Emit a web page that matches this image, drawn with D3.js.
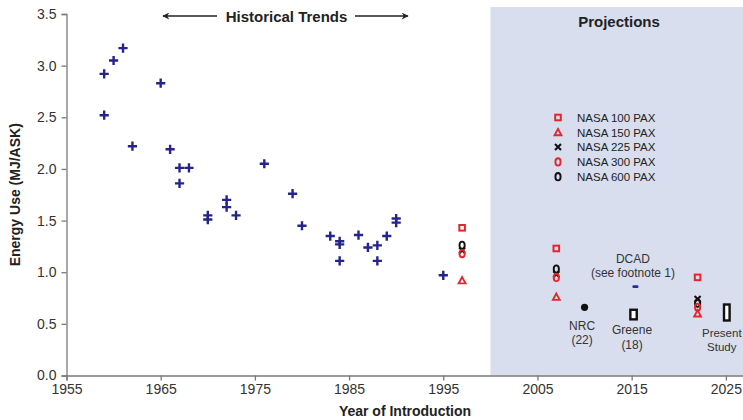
<html>
<head>
<meta http-equiv="Content-Type" content="text/html; charset=utf-8" />
<script src="https://cdn.jsdelivr.net/npm/d3@7/dist/d3.min.js" charset="utf-8"></script>
<style type="text/css">
body { margin: 0; background: #ffffff; }
svg { display: block; font-family: "Liberation Sans", Arial, sans-serif; }
</style>
</head>
<body>
<svg id="chart" width="743" height="420"></svg>
<script type="text/javascript">
// historical aircraft
var histYears  = [1959, 1959, 1960, 1961, 1962, 1965, 1966, 1967, 1968, 1967, 1970, 1970, 1972, 1972, 1973,
                  1976, 1979, 1980, 1983, 1984, 1984, 1984, 1986, 1987, 1988, 1988, 1989, 1990, 1990, 1995];
var histValues = [2.92, 2.52, 3.05, 3.17, 2.22, 2.83, 2.19, 2.01, 2.01, 1.86, 1.55, 1.51, 1.70, 1.63, 1.55,
                  2.05, 1.76, 1.45, 1.35, 1.30, 1.27, 1.11, 1.36, 1.24, 1.26, 1.11, 1.35, 1.52, 1.48, 0.97];

// NASA projections
var nasaYears = [1997, 2007, 2022];
var nasaNames = ["NASA 100 PAX", "NASA 150 PAX", "NASA 225 PAX", "NASA 300 PAX", "NASA 600 PAX"];
var nasa100 = [1.43, 1.23, 0.95];
var nasa150 = [0.92, 0.76, 0.60];
var nasa225 = [1.21, 0.98, 0.74];
var nasa300 = [1.18, 0.95, 0.66];
var nasa600 = [1.26, 1.03, 0.70];

// other studies
var studyNames  = ["NRC", "DCAD", "Greene", "Present Study"];
var studyYears  = [2010, 2015.4, 2015.2, 2025.1];
var studyValues = [0.66, 0.86, 0.59, 0.61];

var xTicks = [1955, 1965, 1975, 1985, 1995, 2005, 2015, 2025];
var yTicks = [0, 0.5, 1, 1.5, 2, 2.5, 3, 3.5];

var v_SVG = d3.select("#chart");
var x = d3.scaleLinear().domain([1955, 2027]).range([66.5, 744.7]);
var y = d3.scaleLinear().domain([0, 3.5]).range([375.5, 14]);

var RED = "#e3262b", NAVY = "#24248a", INK = "#222";

/* projections background */
v_SVG.append("rect")
	.attr("x", x(2000)).attr("y", 7)
	.attr("width", 743 - x(2000)).attr("height", y(0) - 7)
	.attr("fill", "#d8deee");

/* axes */
var xAxis = v_SVG.append("g")
	.attr("transform", "translate(0," + y(0) + ")")
	.call(d3.axisBottom(x).tickValues(xTicks).tickFormat(d3.format("d")).tickSize(5).tickPadding(4));
var yAxis = v_SVG.append("g")
	.attr("transform", "translate(" + x(1955) + ",0)")
	.call(d3.axisLeft(y).tickValues(yTicks).tickFormat(d3.format(".1f")).tickSize(5).tickPadding(5));
[xAxis, yAxis].forEach(function(g)
{
	g.select(".domain").attr("stroke", "#7a7a7a").attr("stroke-width", 1.3);
	g.selectAll(".tick line").attr("stroke", "#7a7a7a").attr("stroke-width", 1.3);
	g.selectAll(".tick text").attr("fill", "#333").attr("font-size", 14)
		.attr("font-family", "Liberation Sans, Arial, sans-serif");
});

v_SVG.append("text")
	.attr("x", 405).attr("y", 416).attr("text-anchor", "middle")
	.attr("font-size", 14).attr("font-weight", "bold").attr("fill", INK)
	.text("Year of Introduction");
v_SVG.append("text")
	.attr("transform", "translate(20," + (y(1.75)) + ") rotate(-90)")
	.attr("text-anchor", "middle")
	.attr("font-size", 14).attr("font-weight", "bold").attr("fill", INK)
	.text("Energy Use (MJ/ASK)");

/* Historical Trends header with arrows */
var defs = v_SVG.append("defs");
defs.append("marker").attr("id", "arr").attr("viewBox", "0 0 10 10")
	.attr("refX", 9).attr("refY", 5).attr("markerWidth", 9).attr("markerHeight", 7)
	.attr("markerUnits", "userSpaceOnUse").attr("orient", "auto-start-reverse")
	.append("path").attr("d", "M0,0 L10,5 L0,10 L3,5 Z").attr("fill", INK);
v_SVG.append("line").attr("x1", 217).attr("y1", 16).attr("x2", 163).attr("y2", 16)
	.attr("stroke", INK).attr("stroke-width", 1.3).attr("marker-end", "url(#arr)");
v_SVG.append("line").attr("x1", 355).attr("y1", 16).attr("x2", 408).attr("y2", 16)
	.attr("stroke", INK).attr("stroke-width", 1.3).attr("marker-end", "url(#arr)");
v_SVG.append("text").attr("x", 286.5).attr("y", 21.5).attr("text-anchor", "middle")
	.attr("font-size", 15).attr("font-weight", "bold").attr("fill", INK)
	.text("Historical Trends");
v_SVG.append("text").attr("x", 619).attr("y", 27).attr("text-anchor", "middle")
	.attr("font-size", 15).attr("font-weight", "bold").attr("fill", INK)
	.text("Projections");

/* marker drawing */
function drawMarker(g, kind, cx, cy)
{
	if (kind == "plus")
	{
		g.append("path").attr("d", "M" + (cx - 4.6) + "," + cy + "H" + (cx + 4.6) + "M" + cx + "," + (cy - 4.6) + "V" + (cy + 4.6))
			.attr("stroke", NAVY).attr("stroke-width", 2.4).attr("fill", "none");
	}
	else if (kind == "square")
	{
		g.append("rect").attr("x", cx - 2.8).attr("y", cy - 2.8).attr("width", 5.6).attr("height", 5.6)
			.attr("stroke", RED).attr("stroke-width", 2).attr("fill", "none");
	}
	else if (kind == "triangle")
	{
		g.append("path").attr("d", "M" + cx + "," + (cy - 3.4) + "L" + (cx + 3.4) + "," + (cy + 2.9) + "L" + (cx - 3.4) + "," + (cy + 2.9) + "Z")
			.attr("stroke", RED).attr("stroke-width", 1.9).attr("fill", "none");
	}
	else if (kind == "cross")
	{
		g.append("path").attr("d", "M" + (cx - 3) + "," + (cy - 3) + "L" + (cx + 3) + "," + (cy + 3) + "M" + (cx + 3) + "," + (cy - 3) + "L" + (cx - 3) + "," + (cy + 3))
			.attr("stroke", "#111").attr("stroke-width", 2.1).attr("fill", "none");
	}
	else if (kind == "oRed" || kind == "oBlack")
	{
		g.append("ellipse").attr("cx", cx).attr("cy", cy).attr("rx", 2.6).attr("ry", 3.7)
			.attr("stroke", kind == "oRed" ? RED : "#111").attr("stroke-width", 1.9).attr("fill", "none");
	}
}

var pts = v_SVG.append("g");
histYears.forEach(function(d, i)
{
	drawMarker(pts, "plus", x(d), y(histValues[i]));
});

var nasaSeries = [nasa100, nasa150, nasa225, nasa300, nasa600];
var nasaKinds  = ["square", "triangle", "cross", "oRed", "oBlack"];
var nasaOrder  = [4, 2, 3, 0, 1]; // drawing order: 600, 225, 300, 100, 150
nasaOrder.forEach(function(s)
{
	nasaYears.forEach(function(yr, i)
	{
		drawMarker(pts, nasaKinds[s], x(yr), y(nasaSeries[s][i]));
	});
});

/* legend */
nasaNames.forEach(function(n, i)
{
	var ly = 117.5 + i * 14.8;
	drawMarker(v_SVG, nasaKinds[i], 558, ly);
	v_SVG.append("text").attr("x", 577).attr("y", ly + 4.2)
		.attr("font-size", 11.5).attr("fill", INK).text(n);
});

/* other studies */
var sx = studyYears.map(function(d) { return x(d); });
var sy = studyValues.map(function(d) { return y(d); });
v_SVG.append("circle").attr("cx", sx[0]).attr("cy", sy[0]).attr("r", 3.6).attr("fill", "#111");
v_SVG.append("rect").attr("x", sx[1] - 3).attr("y", sy[1] - 1.3).attr("width", 6).attr("height", 2.6)
	.attr("rx", 1).attr("fill", "#2a2aa0");
v_SVG.append("rect").attr("x", sx[2] - 3.2).attr("y", sy[2] - 4.8).attr("width", 6.4).attr("height", 9.6)
	.attr("stroke", "#111").attr("stroke-width", 2.4).attr("fill", "#fff");
v_SVG.append("rect").attr("x", sx[3] - 2.8).attr("y", sy[3] - 8).attr("width", 5.6).attr("height", 16)
	.attr("stroke", "#111").attr("stroke-width", 2.4).attr("fill", "#fff");

function label(lines, cx, cy0, size)
{
	lines.forEach(function(t, i)
	{
		v_SVG.append("text").attr("x", cx).attr("y", cy0 + i * 14.5).attr("text-anchor", "middle")
			.attr("font-size", size || 12).attr("fill", "#333").text(t);
	});
}
label(["NRC", "(22)"], sx[0] - 2.5, sy[0] + 22.5);
label(["DCAD", "(see footnote 1)"], sx[1] - 2.5, sy[1] - 24);
label(["Greene", "(18)"], sx[2] - 1.5, sy[2] + 19.5);
label(["Present", "Study"], sx[3] - 5, sy[3] + 24.5, 11.5);
</script>
</body>
</html>
